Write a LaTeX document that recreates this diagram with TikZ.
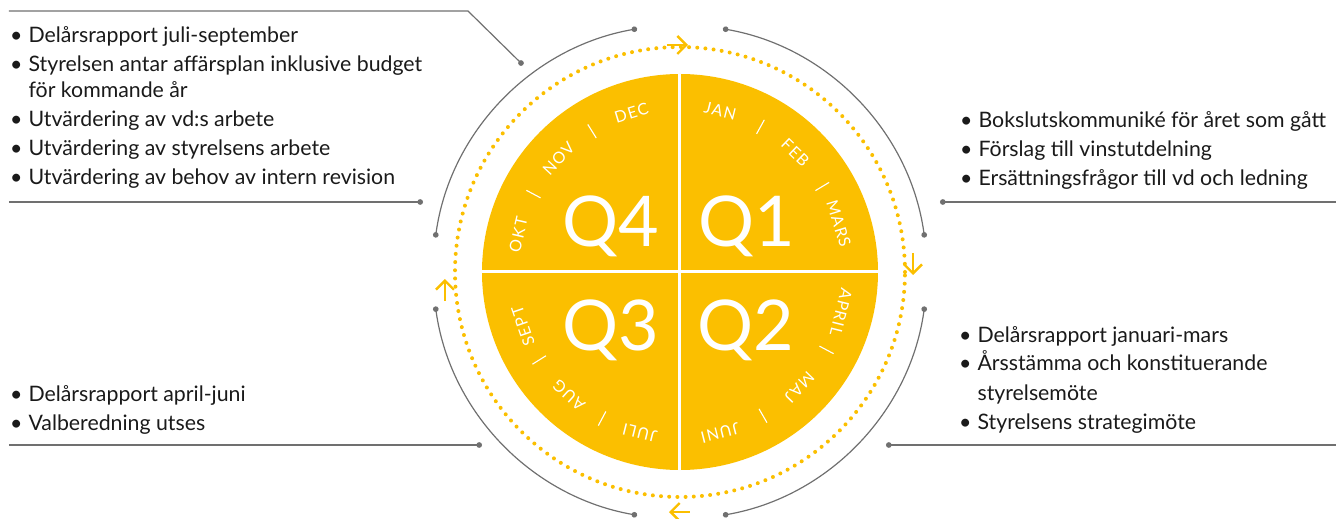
\documentclass[tikz,border=0pt]{standalone}
\usepackage{fontspec}
\setmainfont{Lato}
\usetikzlibrary{arrows.meta}
\definecolor{wheelyellow}{HTML}{FBBF00}
\definecolor{leadgray}{HTML}{707070}
\definecolor{txtblack}{HTML}{1A1A1A}
\newcommand{\blt}{\textbullet\hspace{6pt}}
\tikzset{
  month/.style={text=white, inner sep=0pt,
    font=\fontsize{16}{16}\selectfont\addfontfeature{LetterSpace=8}},
  sepline/.style={white, line width=1.1pt},
  quarter/.style={text=white, inner sep=0pt, anchor=base,
    font=\fontsize{70}{70}\selectfont},
  leader/.style={leadgray, line width=1.2pt},
  ringarrow/.style={wheelyellow, line width=2.4pt,
    -{Straight Barb[length=9pt,width=18pt]}},
  itemlist/.style={text=txtblack, align=left, inner sep=0pt, anchor=base west,
    font=\fontsize{21.3}{29}\selectfont}
}
\begin{document}
\begin{tikzpicture}[x=1pt,y=1pt]
\pgfmathsetmacro{\discr}{198}
\pgfmathsetmacro{\ringr}{225}
\pgfmathsetmacro{\arcr}{247}
\pgfmathsetmacro{\monthr}{166}
\useasboundingbox (-680,-247) rectangle (656,272);
% wheel
\coordinate (O) at (0,0);
\fill[wheelyellow] (O) circle[radius=\discr];
\draw[white, line width=3pt] (-\discr,0) -- (\discr,0);
\draw[white, line width=3pt] (0,-\discr) -- (0,\discr);
% dotted ring and its arrows
\draw[wheelyellow, line width=4pt, line cap=round, dash pattern=on 0pt off 8.2pt] (O) circle[radius=\ringr];
\coordinate (topA) at (-13,227);
\coordinate (topB) at (8,227);
\coordinate (rightA) at (233,19);
\coordinate (rightB) at (233,-3);
\coordinate (bottomA) at (10,-240);
\coordinate (bottomB) at (-11,-240);
\coordinate (leftA) at (-235,-29);
\coordinate (leftB) at (-235,-7);
\draw[ringarrow] (topA) -- (topB);
\draw[ringarrow] (rightA) -- (rightB);
\draw[ringarrow] (bottomA) -- (bottomB);
\draw[ringarrow] (leftA) -- (leftB);
% gray arcs
\draw[leader, {Circle[length=5.6pt]}-{Circle[length=5.6pt]}] (100:\arcr) arc[start angle=100, end angle=172, radius=\arcr];
\draw[leader, {Circle[length=5.6pt]}-{Circle[length=5.6pt]}] (80:\arcr) arc[start angle=80, end angle=8, radius=\arcr];
\draw[leader, {Circle[length=5.6pt]}-{Circle[length=5.6pt]}] (-8:\arcr) arc[start angle=-8, end angle=-80, radius=\arcr];
\draw[leader, {Circle[length=5.6pt]}-{Circle[length=5.6pt]}] (-100:\arcr) arc[start angle=-100, end angle=-172, radius=\arcr];
% quarters
\node[quarter] (q1) at (67,25) {Q1};
\node[quarter] (q2) at (66,-78) {Q2};
\node[quarter] (q3) at (-69,-78) {Q3};
\node[quarter] (q4) at (-69,25) {Q4};
% months
\node[month, rotate=-14] (jan) at (76:\monthr) {JAN};
\node[month, rotate=-44] (feb) at (46:\monthr) {FEB};
\node[month, rotate=-73] (mars) at (17:\monthr) {MARS};
\node[month, rotate=-104] (april) at (-14:\monthr) {APRIL};
\node[month, rotate=-134] (maj) at (-44:\monthr) {MAJ};
\node[month, rotate=-166] (juni) at (-76:\monthr) {JUNI};
\node[month, rotate=-194] (juli) at (-104:\monthr) {JULI};
\node[month, rotate=-222] (aug) at (-132:\monthr) {AUG};
\node[month, rotate=-251] (sept) at (-161:\monthr) {SEPT};
\node[month, rotate=77] (okt) at (167:\monthr) {OKT};
\node[month, rotate=47] (nov) at (137:\monthr) {NOV};
\node[month, rotate=17] (dec) at (107:\monthr) {DEC};
\draw[sepline] (61:158) -- (61:174);
\draw[sepline] (31:158) -- (31:174);
\draw[sepline] (-28:158) -- (-28:174);
\draw[sepline] (-60:158) -- (-60:174);
\draw[sepline] (-118:158) -- (-118:174);
\draw[sepline] (-148:158) -- (-148:174);
\draw[sepline] (152:158) -- (152:174);
\draw[sepline] (122:158) -- (122:174);
% item lists (base = last line)
\node[itemlist] (q4list) at (-670,87) {\blt Delårsrapport juli-september\\
  \blt Styrelsen antar affärsplan inklusive budget\\[-3pt]
  \hphantom{\blt}för kommande år\\
  \blt Utvärdering av vd:s arbete\\
  \blt Utvärdering av styrelsens arbete\\
  \blt Utvärdering av behov av intern revision};
\node[itemlist] (q3list) at (-670,-158) {\blt Delårsrapport april-juni\\
  \blt Valberedning utses};
\node[itemlist] (q1list) at (280,86) {\blt Bokslutskommuniké för året som gått\\
  \blt Förslag till vinstutdelning\\
  \blt Ersättningsfrågor till vd och ledning};
\node[itemlist] (q2list) at (279,-157) {\blt Delårsrapport januari-mars\\
  \blt Årsstämma och konstituerande\\
  \hphantom{\blt}styrelsemöte\\
  \blt Styrelsens strategimöte};
% leaders
\coordinate (q4start) at (-671,261);
\coordinate (q4bend) at (-212,261);
\coordinate (q4end) at (-157,207);
\draw[leader, -{Circle[length=5.6pt]}] (q4start) -- (q4bend) -- (q4end);
\coordinate (q4bstart) at (-671,70);
\coordinate (q4bend2) at (-257,70);
\draw[leader, -{Circle[length=5.6pt]}] (q4bstart) -- (q4bend2);
\coordinate (q3start) at (-671,-173);
\coordinate (q3end) at (-198,-173);
\draw[leader, -{Circle[length=5.6pt]}] (q3start) -- (q3end);
\coordinate (q1start) at (656,70);
\coordinate (q1end) at (260,70);
\draw[leader, -{Circle[length=5.6pt]}] (q1start) -- (q1end);
\coordinate (q2start) at (656,-173);
\coordinate (q2end) at (206,-173);
\draw[leader, -{Circle[length=5.6pt]}] (q2start) -- (q2end);
\end{tikzpicture}
\end{document}
